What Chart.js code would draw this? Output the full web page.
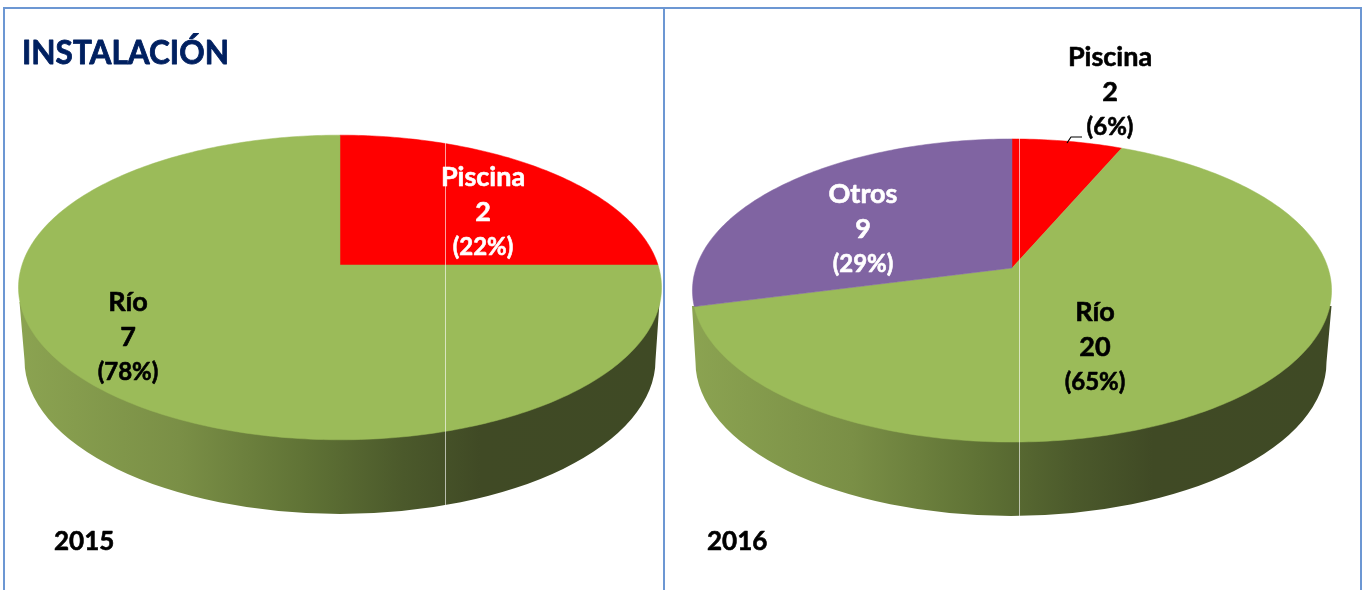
<!DOCTYPE html>
<html lang="es">
<head>
<meta charset="utf-8">
<title>Instalación</title>
<style>
html,body{margin:0;padding:0;background:#fff;width:1367px;height:590px;overflow:hidden}
#stage{position:relative;width:1367px;height:590px}
.panel{position:absolute;top:0;height:590px}
.rule{position:absolute;background:#6c97d3}
</style>
<script src="https://cdn.jsdelivr.net/npm/chart.js@4"></script>
</head>
<body>
<div id="stage">
  <div class="panel" style="left:0;width:664px"><canvas id="c2015"></canvas></div>
  <div class="panel" style="left:664px;width:703px"><canvas id="c2016"></canvas></div>
  <div class="rule" style="left:3px;top:7px;width:1359px;height:2px"></div>
  <div class="rule" style="left:3px;top:7px;width:2px;height:583px"></div>
  <div class="rule" style="left:663px;top:7px;width:2px;height:583px"></div>
  <div class="rule" style="left:1360px;top:7px;width:2px;height:583px"></div>
</div>
<script>
// ---- data ----
const titleText = "INSTALACIÓN";
const categories2015 = ["Piscina", "Río"];
const counts2015 = [2, 7];
const percents2015 = ["(22%)", "(78%)"];
const sweep2015 = [2.25, 6.75];          // slice sizes as they are drawn in the picture
const colors2015 = ["#ff0000", "#9bbb59"];
const textColors2015 = ["#ffffff", "#000000"];

const categories2016 = ["Piscina", "Río", "Otros"];
const counts2016 = [2, 20, 9];
const percents2016 = ["(6%)", "(65%)", "(29%)"];
const colors2016 = ["#ff0000", "#9bbb59", "#8064a2"];
const textColors2016 = ["#000000", "#000000", "#ffffff"];

// ---- 3D look and label placement ----
const FONT = 'Lato, "Open Sans", sans-serif';
const wallStops = [[0,"#8ba351"],[0.25,"#7a8f46"],[0.45,"#5f7235"],[0.6,"#4b592b"],[0.72,"#404a25"],[1,"#3f4a25"]];

function boldText(ctx, s, x, y, color, weight) {
  ctx.fillStyle = color;
  ctx.strokeStyle = color;
  ctx.lineWidth = weight;
  ctx.lineJoin = "round";
  ctx.strokeText(s, x, y);
  ctx.fillText(s, x, y);
}

const pie3d = {
  id: "pie3d",
  beforeDatasetDraw(chart, args, o) {
    const ctx = chart.ctx;
    const project = ang => {
      const th = ang + Math.PI / 2, u = Math.sin(th), v = Math.cos(th), w = 1 + o.p * v;
      return [o.ax + o.a * u / w, o.ay - o.b * v / w];
    };
    // wall
    const g = ctx.createLinearGradient(o.wall.x0, 0, o.wall.x1, 0);
    wallStops.forEach(s => g.addColorStop(s[0], s[1]));
    ctx.save();
    ctx.fillStyle = g;
    ctx.beginPath();
    ctx.moveTo(o.wall.x0, o.wall.topY);
    ctx.lineTo(o.wall.cx - o.wall.rx, o.wall.cy);
    ctx.ellipse(o.wall.cx, o.wall.cy, o.wall.rx, o.wall.ry, 0, Math.PI, 0, true);
    ctx.lineTo(o.wall.x1, o.wall.topY);
    ctx.closePath();
    ctx.fill();
    // faces, one per arc element of the chart
    args.meta.data.forEach(arc => {
      const s = arc.startAngle, e = arc.endAngle, n = Math.max(8, Math.ceil((e - s) * 60));
      ctx.beginPath();
      ctx.moveTo(o.ax, o.ay);
      for (let i = 0; i <= n; i++) {
        const q = project(s + (e - s) * i / n);
        ctx.lineTo(q[0], q[1]);
      }
      ctx.closePath();
      ctx.fillStyle = arc.options.backgroundColor;
      ctx.strokeStyle = arc.options.backgroundColor;
      ctx.lineWidth = 0.5;
      ctx.fill();
      ctx.stroke();
    });
    // thin light seam crossing the pie
    ctx.strokeStyle = "rgba(255,255,255,0.62)";
    ctx.lineWidth = 1;
    ctx.beginPath();
    ctx.moveTo(o.seam.x + 0.5, o.seam.y0);
    ctx.lineTo(o.seam.x + 0.5, o.seam.y1);
    ctx.stroke();
    ctx.restore();
    return false;
  },
  afterDatasetsDraw(chart, args, o) {
    const ctx = chart.ctx;
    ctx.save();
    ctx.textAlign = "center";
    ctx.textBaseline = "middle";
    const ds = chart.data.datasets[0];
    chart.data.labels.forEach((name, i) => {
      const p = o.labels[i], c = ds.textColors[i];
      ctx.font = "bold " + o.nameSize + "px " + FONT;
      boldText(ctx, name, p[0], p[1], c, 0.6);
      boldText(ctx, String(ds.counts[i]), p[0], p[1] + 35, c, 0.6);
      ctx.font = "bold " + o.pctSize + "px " + FONT;
      boldText(ctx, ds.percents[i], p[0], p[1] + 70, c, 0.6);
    });
    if (o.leader) {
      ctx.strokeStyle = "#000";
      ctx.lineWidth = 1.2;
      ctx.beginPath();
      o.leader.forEach((q, i) => i ? ctx.lineTo(q[0], q[1]) : ctx.moveTo(q[0], q[1]));
      ctx.stroke();
    }
    ctx.textAlign = "left";
    ctx.font = "bold 26px " + FONT;
    boldText(ctx, o.year[0], o.year[1], o.year[2], "#000", 0.6);
    if (o.title) {
      ctx.font = "bold 31.5px " + FONT;
      boldText(ctx, o.title[0], o.title[1], o.title[2], "#002060", 0.8);
    }
    ctx.restore();
  }
};

function makePie(id, labels, sweep, colors, counts, percents, textColors, opts) {
  return new Chart(document.getElementById(id), {
    type: "pie",
    data: { labels, datasets: [{ data: sweep, backgroundColor: colors, borderWidth: 0, counts, percents, textColors }] },
    options: {
      responsive: false, animation: false,
      events: [],
      plugins: { legend: { display: false }, tooltip: { enabled: false }, pie3d: opts }
    },
    plugins: [pie3d]
  });
}

const cv1 = document.getElementById("c2015"); cv1.width = 664; cv1.height = 590;
const cv2 = document.getElementById("c2016"); cv2.width = 703; cv2.height = 590;

makePie("c2015", categories2015, sweep2015, colors2015, counts2015, percents2015, textColors2015, {
  ax: 340, ay: 265, a: 318, b: 149, p: 0.1475,
  wall: { x0: 19.5, x1: 659.5, topY: 302, cx: 340, cy: 360, rx: 315.5, ry: 154 },
  seam: { x: 445, y0: 143, y1: 505 },
  labels: [[483, 177.5], [128, 302]],
  nameSize: 27, pctSize: 24,
  year: ["2015", 54, 541.5],
  title: [titleText, 22, 53.5]
});

makePie("c2016", categories2016, counts2016, colors2016, counts2016, percents2016, textColors2016, {
  ax: 348, ay: 268, a: 316, b: 148.2, p: 0.1485,
  wall: { x0: 28, x1: 667.5, topY: 306, cx: 347, cy: 362, rx: 315.5, ry: 154 },
  seam: { x: 355, y0: 138, y1: 516 },
  labels: [[446, 57.5], [431, 312], [199, 194]],
  nameSize: 27, pctSize: 24,
  leader: [[403, 143], [407, 137], [418, 137]],
  year: ["2016", 43, 541.5]
});
</script>
</body>
</html>
